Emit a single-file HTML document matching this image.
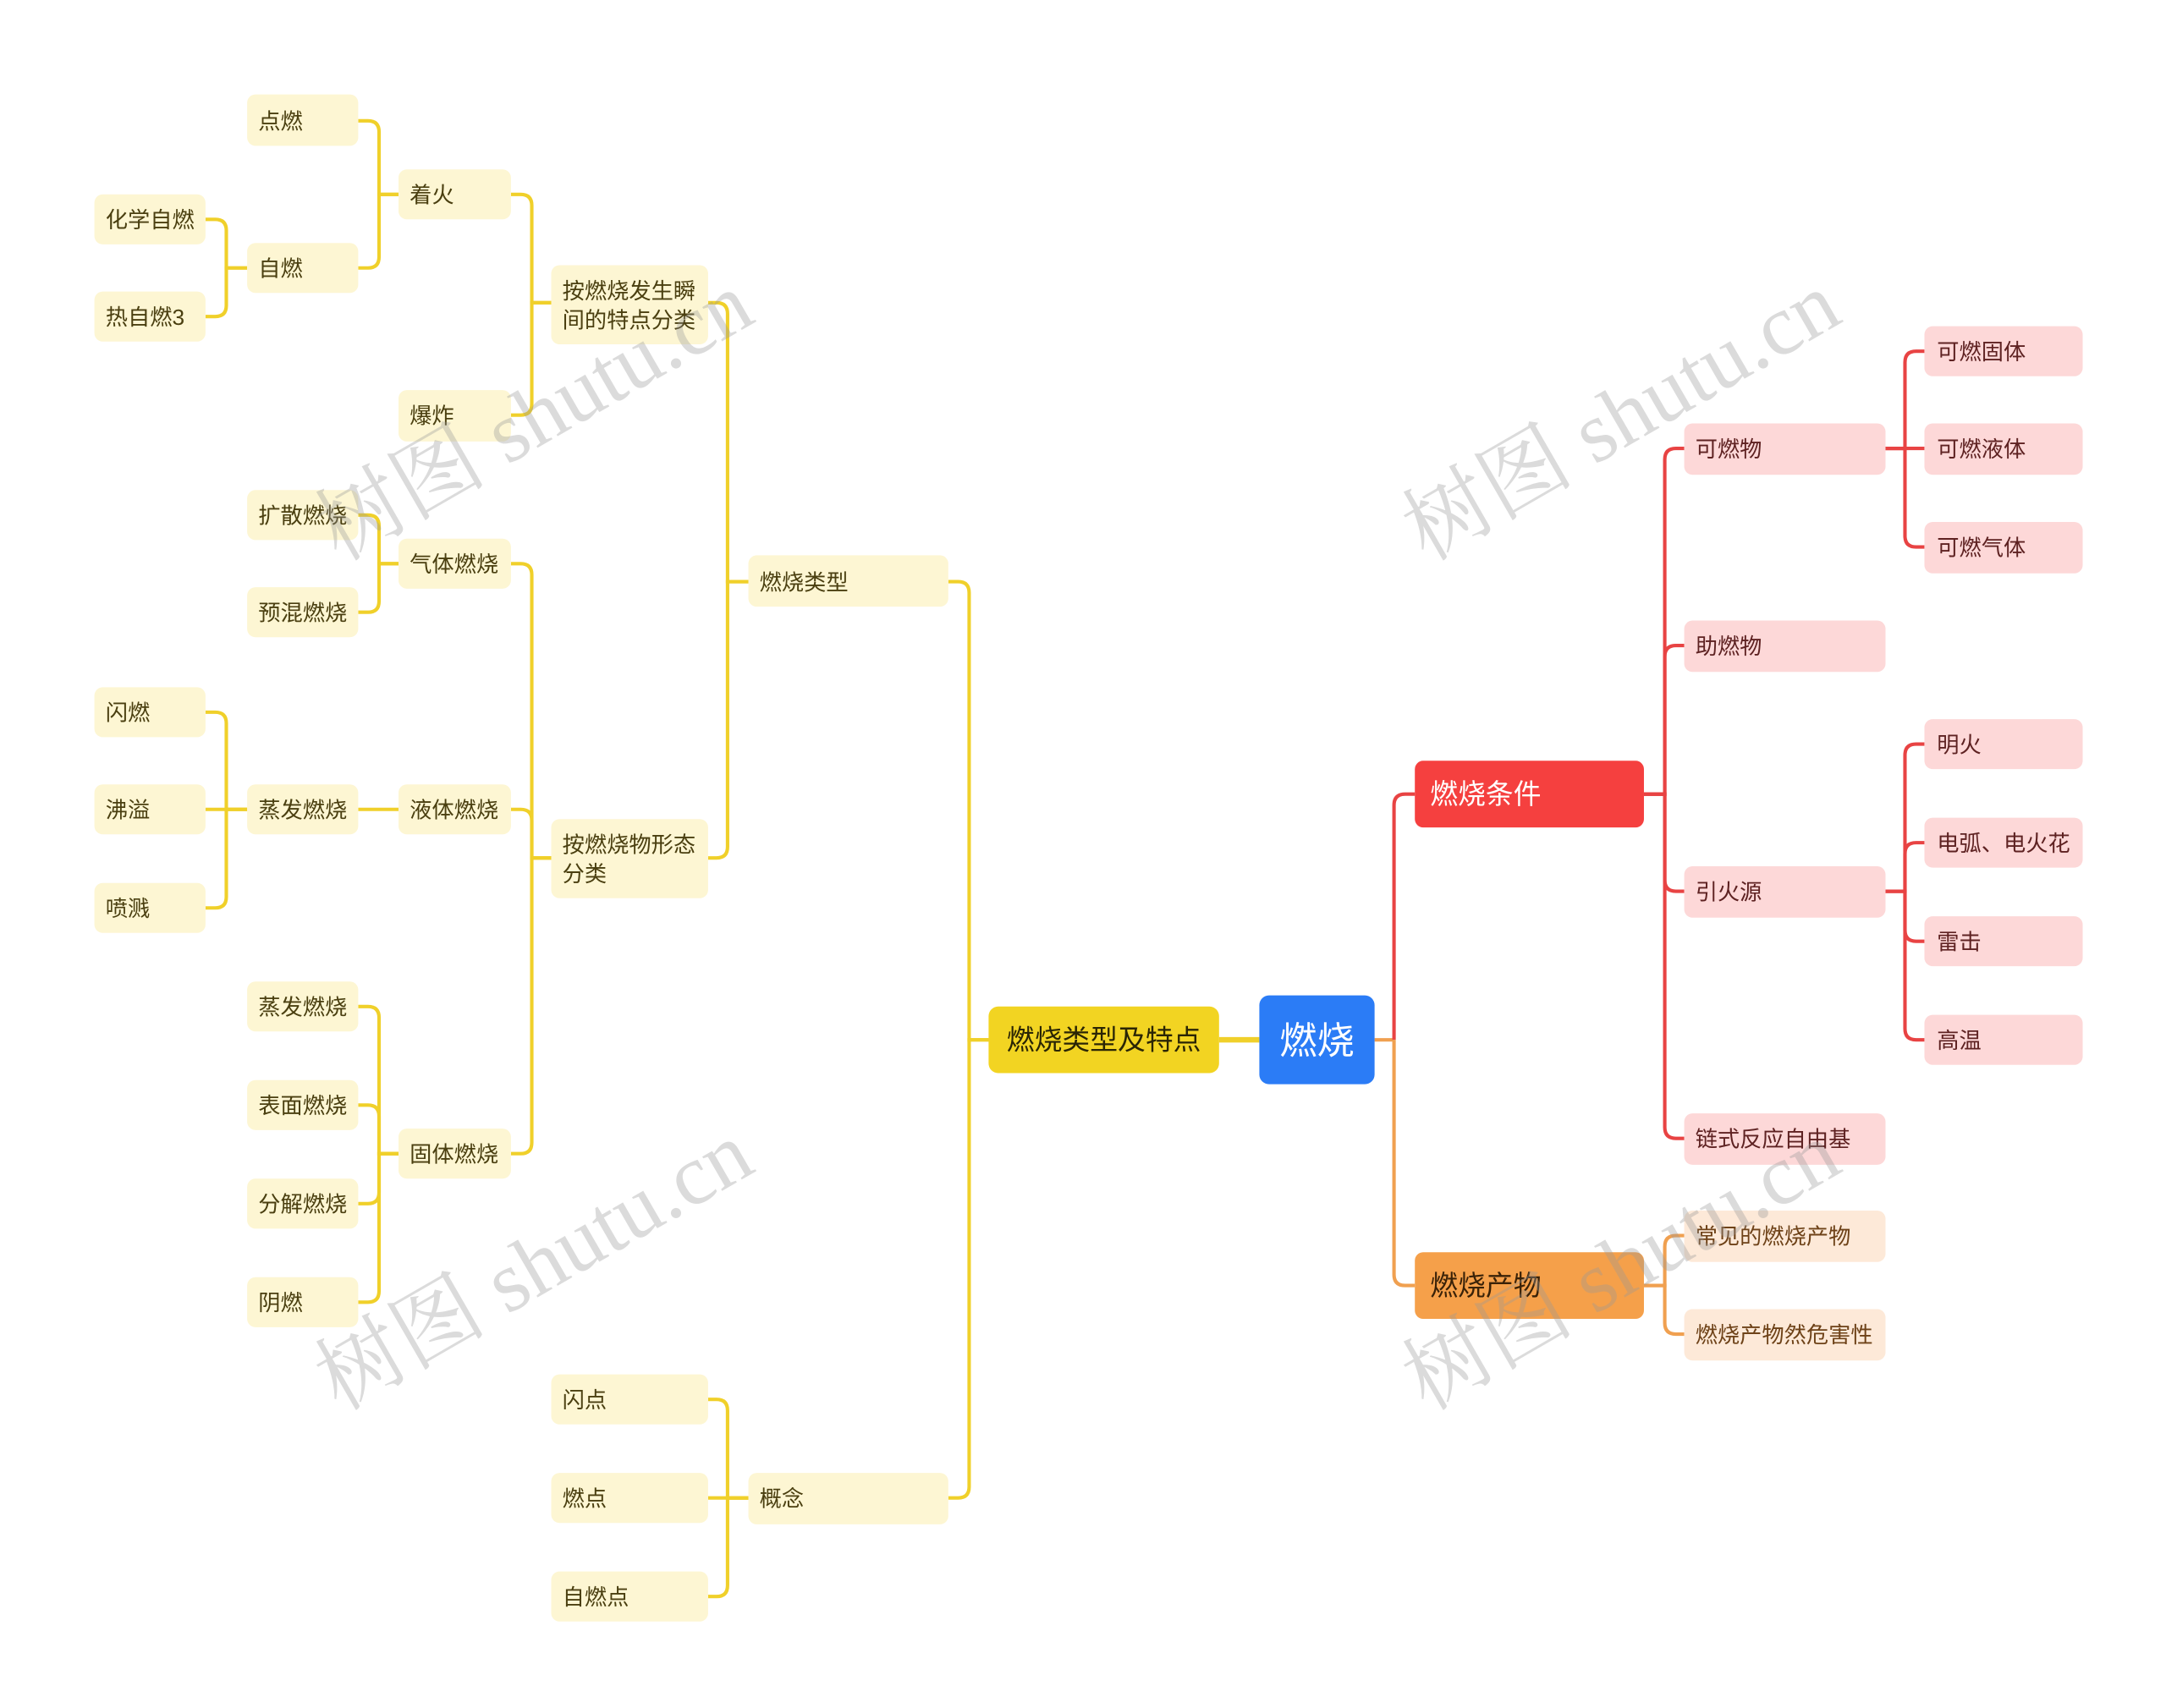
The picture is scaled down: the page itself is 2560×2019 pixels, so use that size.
<!DOCTYPE html>
<html><head><meta charset="utf-8"><style>
html,body{margin:0;padding:0;background:#fff;width:2560px;height:2019px;overflow:hidden}
svg{display:block}
text{font-family:"Liberation Sans","Noto Sans CJK SC",sans-serif}
.y rect{fill:#fdf6d3}.y text{fill:#4a3f10;font-size:16px}
.r rect{fill:#fdd8d8}.r text{fill:#5e2222;font-size:16px}
.o rect{fill:#fde9d8}.o text{fill:#6e4218;font-size:16px}
.ly{fill:none;stroke:#f0d02a;stroke-width:2.5}
.lr{fill:none;stroke:#e84343;stroke-width:2.5}
.lo{fill:none;stroke:#f0a050;stroke-width:2.5}
.wm{fill:#999;opacity:.35;font-size:62px;font-family:"Liberation Serif","Noto Serif CJK SC",serif}
</style></head><body>
<svg width="2560" height="2019" viewBox="0 0 1560 1230.3" xmlns="http://www.w3.org/2000/svg">
<!-- connectors left -->
<g class="ly">
<path d="M878 749H907" stroke-width="4"/>
<path d="M712 749H698V427Q698 419 690 419H683"/>
<path d="M712 749H698V1071Q698 1079 690 1079H683"/>
<path d="M539 419H524V226Q524 218 516 218H510"/>
<path d="M539 419H524V610Q524 618 516 618H510"/>
<path d="M397 218H383V148Q383 140 375 140H368"/>
<path d="M397 218H383V291Q383 299 375 299H368"/>
<path d="M287 140H273V95Q273 87 265 87H258"/>
<path d="M287 140H273V185Q273 193 265 193H258"/>
<path d="M178 193H163V166Q163 158 155 158H148"/>
<path d="M178 193H163V220Q163 228 155 228H148"/>
<path d="M397 618H383V414Q383 406 375 406H368"/>
<path d="M397 618H383V591Q383 583 375 583H368"/>
<path d="M397 618H383V823Q383 831 375 831H368"/>
<path d="M287 406H273V379Q273 371 265 371H258"/>
<path d="M287 406H273V433Q273 441 265 441H258"/>
<path d="M287 583H258"/>
<path d="M178 583H163V521Q163 513 155 513H148"/>
<path d="M178 583H148"/>
<path d="M178 583H163V646Q163 654 155 654H148"/>
<path d="M287 831H273V733Q273 725 265 725H258"/>
<path d="M287 831H273V804Q273 796 265 796H258"/>
<path d="M287 831H273V859Q273 867 265 867H258"/>
<path d="M287 831H273V930Q273 938 265 938H258"/>
<path d="M539 1079H524V1016Q524 1008 516 1008H510"/>
<path d="M539 1079H510"/>
<path d="M539 1079H524V1142Q524 1150 516 1150H510"/>
</g>
<!-- connectors right -->
<path class="lo" d="M990 749H1004"/>
<path class="lr" d="M1004 749V580Q1004 572 1012 572H1019"/>
<path class="lo" d="M1004 749V918Q1004 926 1012 926H1019"/>
<g class="lr">
<path d="M1184 572H1199V331Q1199 323 1207 323H1213"/>
<path d="M1184 572H1199V473Q1199 465 1207 465H1213"/>
<path d="M1184 572H1199V634Q1199 642 1207 642H1213"/>
<path d="M1184 572H1199V812Q1199 820 1207 820H1213"/>
<path d="M1358 323H1372V261Q1372 253 1380 253H1386"/>
<path d="M1358 323H1386"/>
<path d="M1358 323H1372V386Q1372 394 1380 394H1386"/>
<path d="M1358 642H1372V544Q1372 536 1380 536H1386"/>
<path d="M1358 642H1372V615Q1372 607 1380 607H1386"/>
<path d="M1358 642H1372V670Q1372 678 1380 678H1386"/>
<path d="M1358 642H1372V741Q1372 749 1380 749H1386"/>
</g>
<g class="lo">
<path d="M1184 926H1199V898Q1199 890 1207 890H1213"/>
<path d="M1184 926H1199V953Q1199 961 1207 961H1213"/>
</g>
<!-- root -->
<rect x="907" y="717" width="83" height="64" rx="7" fill="#2b7cf6"/>
<text x="948.5" y="759" text-anchor="middle" fill="#fff" font-size="27">燃烧</text>
<rect x="712" y="725" width="166" height="48" rx="7" fill="#f2d422"/>
<text x="795" y="756" text-anchor="middle" fill="#2a2505" font-size="20">燃烧类型及特点</text>
<rect x="1019" y="548" width="165" height="48" rx="6" fill="#f5403f"/>
<text x="1030" y="579" fill="#fff" font-size="20">燃烧条件</text>
<rect x="1019" y="902" width="165" height="48" rx="6" fill="#f5a04a"/>
<text x="1030" y="933" fill="#3a2208" font-size="20">燃烧产物</text>
<!-- yellow nodes -->
<g class="y">
<rect x="539" y="400" width="144" height="37" rx="6"/><text x="547" y="425">燃烧类型</text>
<rect x="539" y="1061" width="144" height="37" rx="6"/><text x="547" y="1085">概念</text>
<rect x="397" y="191" width="113" height="57" rx="6"/><text x="405" y="215">按燃烧发生瞬</text><text x="405" y="236">间的特点分类</text>
<rect x="397" y="590" width="113" height="57" rx="6"/><text x="405" y="614">按燃烧物形态</text><text x="405" y="635">分类</text>
<rect x="287" y="122" width="81" height="36" rx="6"/><text x="295" y="146">着火</text>
<rect x="287" y="281" width="81" height="37" rx="6"/><text x="295" y="305">爆炸</text>
<rect x="178" y="68" width="80" height="37" rx="6"/><text x="186" y="93">点燃</text>
<rect x="178" y="175" width="80" height="36" rx="6"/><text x="186" y="199">自燃</text>
<rect x="68" y="140" width="80" height="36" rx="6"/><text x="76" y="164">化学自燃</text>
<rect x="68" y="210" width="80" height="36" rx="6"/><text x="76" y="234">热自燃3</text>
<rect x="287" y="388" width="81" height="36" rx="6"/><text x="295" y="412">气体燃烧</text>
<rect x="287" y="565" width="81" height="36" rx="6"/><text x="295" y="589">液体燃烧</text>
<rect x="287" y="813" width="81" height="36" rx="6"/><text x="295" y="837">固体燃烧</text>
<rect x="178" y="353" width="80" height="36" rx="6"/><text x="186" y="377">扩散燃烧</text>
<rect x="178" y="423" width="80" height="36" rx="6"/><text x="186" y="447">预混燃烧</text>
<rect x="178" y="565" width="80" height="36" rx="6"/><text x="186" y="589">蒸发燃烧</text>
<rect x="68" y="495" width="80" height="36" rx="6"/><text x="76" y="519">闪燃</text>
<rect x="68" y="565" width="80" height="36" rx="6"/><text x="76" y="589">沸溢</text>
<rect x="68" y="636" width="80" height="36" rx="6"/><text x="76" y="660">喷溅</text>
<rect x="178" y="707" width="80" height="36" rx="6"/><text x="186" y="731">蒸发燃烧</text>
<rect x="178" y="778" width="80" height="36" rx="6"/><text x="186" y="802">表面燃烧</text>
<rect x="178" y="849" width="80" height="36" rx="6"/><text x="186" y="873">分解燃烧</text>
<rect x="178" y="920" width="80" height="36" rx="6"/><text x="186" y="944">阴燃</text>
<rect x="397" y="990" width="113" height="36" rx="6"/><text x="405" y="1014">闪点</text>
<rect x="397" y="1061" width="113" height="36" rx="6"/><text x="405" y="1085">燃点</text>
<rect x="397" y="1132" width="113" height="36" rx="6"/><text x="405" y="1156">自燃点</text>
</g>
<!-- red nodes -->
<g class="r">
<rect x="1213" y="305" width="145" height="37" rx="6"/><text x="1221" y="329">可燃物</text>
<rect x="1213" y="447" width="145" height="37" rx="6"/><text x="1221" y="471">助燃物</text>
<rect x="1213" y="624" width="145" height="37" rx="6"/><text x="1221" y="648">引火源</text>
<rect x="1213" y="802" width="145" height="37" rx="6"/><text x="1221" y="826">链式反应自由基</text>
<rect x="1386" y="235" width="114" height="36" rx="6"/><text x="1395" y="259">可燃固体</text>
<rect x="1386" y="305" width="114" height="37" rx="6"/><text x="1395" y="329">可燃液体</text>
<rect x="1386" y="376" width="114" height="37" rx="6"/><text x="1395" y="400">可燃气体</text>
<rect x="1386" y="518" width="114" height="36" rx="6"/><text x="1395" y="542">明火</text>
<rect x="1386" y="589" width="114" height="36" rx="6"/><text x="1395" y="613">电弧、电火花</text>
<rect x="1386" y="660" width="114" height="36" rx="6"/><text x="1395" y="684">雷击</text>
<rect x="1386" y="731" width="114" height="36" rx="6"/><text x="1395" y="755">高温</text>
</g>
<g class="o">
<rect x="1213" y="872" width="145" height="37" rx="6"/><text x="1221" y="896">常见的燃烧产物</text>
<rect x="1213" y="943" width="145" height="37" rx="6"/><text x="1221" y="967">燃烧产物然危害性</text>
</g>
<!-- watermarks -->
<text class="wm" transform="translate(395 318) rotate(-30)" text-anchor="middle">树图 shutu.cn</text>
<text class="wm" transform="translate(1178 318) rotate(-30)" text-anchor="middle">树图 shutu.cn</text>
<text class="wm" transform="translate(395 930) rotate(-30)" text-anchor="middle">树图 shutu.cn</text>
<text class="wm" transform="translate(1178 930) rotate(-30)" text-anchor="middle">树图 shutu.cn</text>
</svg>
</body></html>
